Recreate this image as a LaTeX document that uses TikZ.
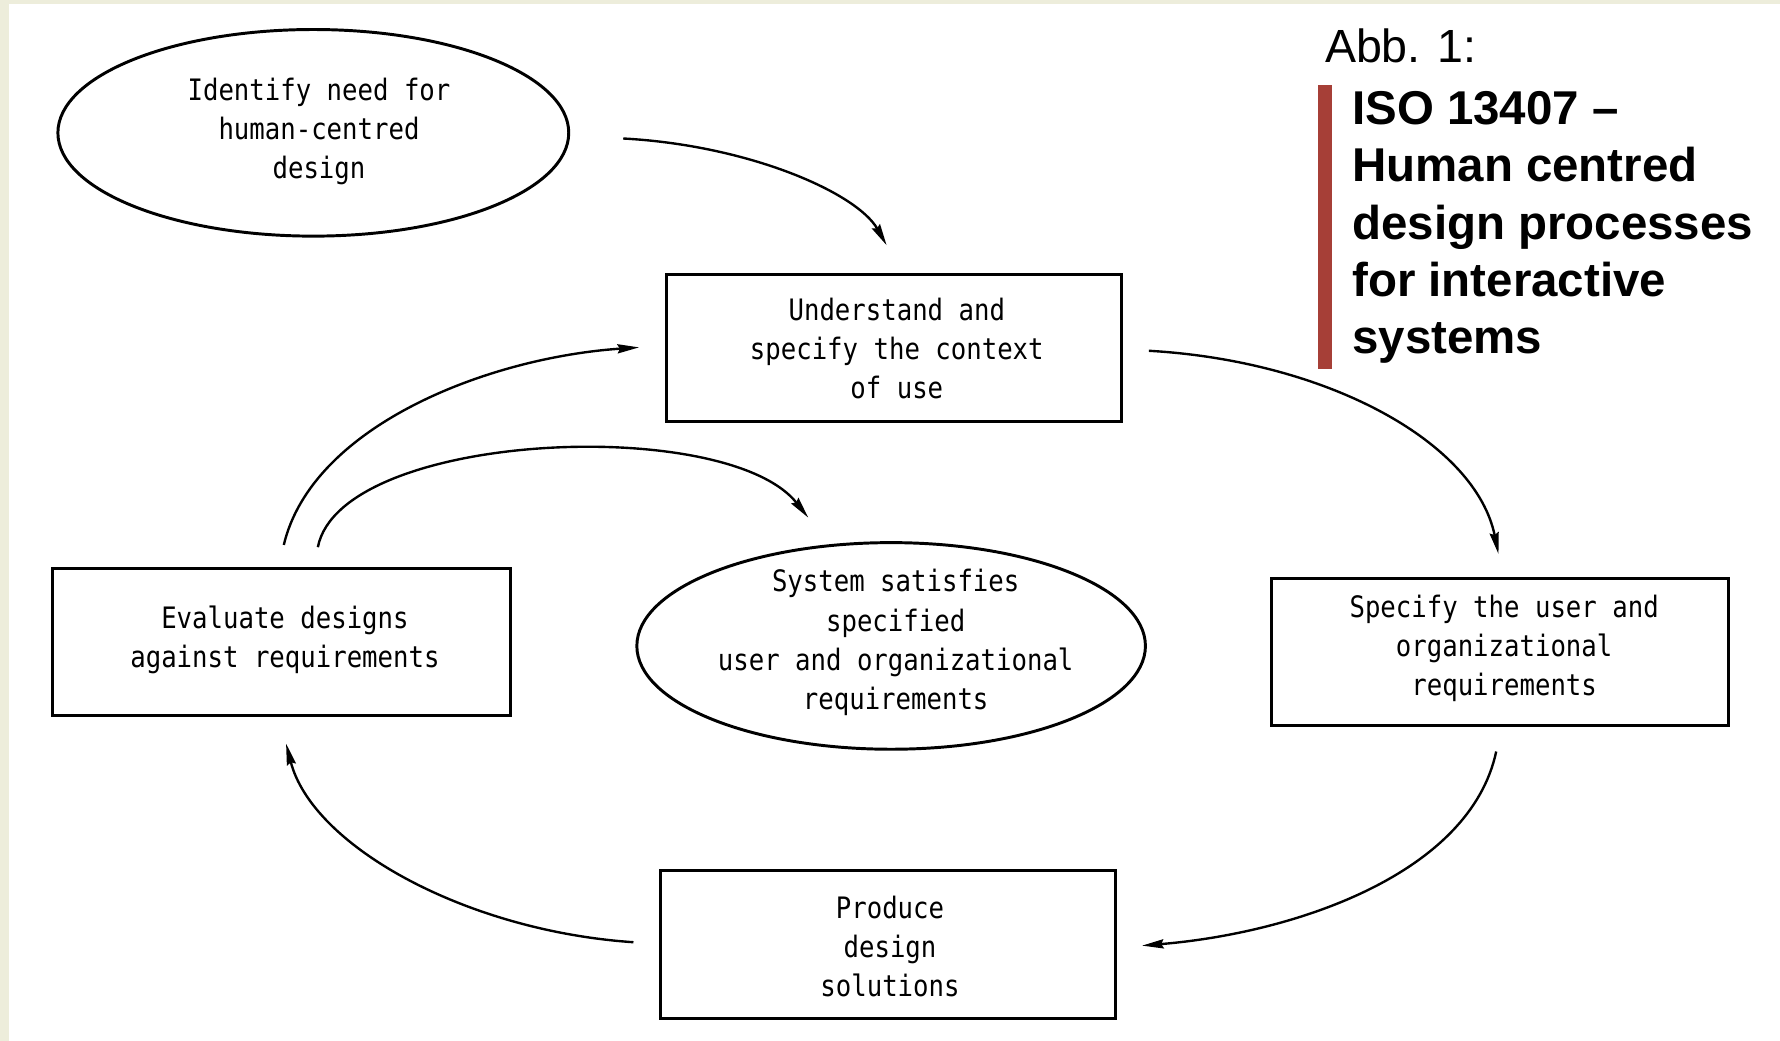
\documentclass[tikz,border=0pt]{standalone}
\usepackage{fontspec}
\setmainfont{Liberation Sans}
\newfontfamily\isofont[FakeStretch=0.87]{DejaVu Sans Mono}
\usetikzlibrary{shapes.geometric,arrows.meta}
\definecolor{beige}{HTML}{EDEDDB}
\definecolor{barred}{HTML}{A63F37}
\tikzset{
  isotext/.style={font=\isofont\fontsize{26}{34.5}\selectfont, align=center, inner sep=0pt},
  procbox/.style={draw, line width=2.6pt, minimum width=401pt, minimum height=130pt, inner sep=0pt},
  goalell/.style={draw, ellipse, line width=2.6pt, minimum width=450pt, minimum height=182pt, inner sep=0pt},
  flow/.style={line width=2.1pt, -{Stealth[length=19pt,width=8pt,inset=2pt]}},
  titlereg/.style={font=\fontsize{41}{50}\selectfont, anchor=base west, inner sep=0pt},
  titlebold/.style={font=\bfseries\fontsize{41.8}{50}\selectfont, anchor=base west, inner sep=0pt}
}
\begin{document}
\begin{tikzpicture}[x=1pt,y=-1pt]
\useasboundingbox (0,0) rectangle (1568,917);
\fill[beige] (0,0) rectangle (1568,917);
\fill[white] (7.5,3.5) rectangle (1568,917);

% shapes
\node[goalell] (need) at (276,117) {};
\node[isotext] (needt) at (281,116) {Identify need for\\human-centred\\design};
\node[procbox] (ctx) at (787.5,306.5) {};
\node[isotext] (ctxt) at (790,307) {Understand and\\specify the context\\of use};
\node[procbox, minimum width=404pt] (eval) at (248,565.5) {};
\node[isotext] (evalt) at (251,564) {Evaluate designs\\against requirements};
\node[goalell, minimum width=448pt] (sys) at (785,569) {};
\node[isotext] (syst) at (789,566) {System satisfies\\specified\\user and organizational\\requirements};
\node[procbox, minimum width=403pt] (req) at (1321.5,574.5) {};
\node[isotext] (reqt) at (1325,571) {Specify the user and\\organizational\\requirements};
\node[procbox] (prod) at (782.5,832) {};
\node[isotext] (prodt) at (784,834) {Produce\\design\\solutions};

% connector end points
\coordinate (a1s) at (549,122);  \coordinate (a1e) at (781,216);
\coordinate (a2s) at (1012,309); \coordinate (a2e) at (1320,488);
\coordinate (a3s) at (1318,662); \coordinate (a3e) at (1006,833);
\coordinate (a4s) at (558,830);  \coordinate (a4e) at (252,655);
\coordinate (a5s) at (250,480);  \coordinate (a5e) at (563,306);
\coordinate (a6s) at (280,482);  \coordinate (a6e) at (712,456);

\draw[flow] (a1s) .. controls (660,128) and (755,170) .. (a1e);
\draw[flow] (a2s) .. controls (1170,318) and (1300,390) .. (a2e);
\draw[flow] (a3s) .. controls (1295,770) and (1140,822) .. (a3e);
\draw[flow] (a4s) .. controls (410,820) and (275,745) .. (a4e);
\draw[flow] (a5s) .. controls (275,375) and (430,315) .. (a5e);
\draw[flow] (a6s) .. controls (300,380) and (640,365) .. (a6e);

% title
\node[titlereg] (abb) at (1167,55.5) {Abb. 1:};
\fill[barred] (1161,75) rectangle (1173,325);
\node[titlebold] (t1) at (1191,110) {ISO 13407 –};
\node[titlebold] (t2) at (1191,160.3) {Human centred};
\node[titlebold] (t3) at (1191,210.6) {design processes};
\node[titlebold] (t4) at (1191,260.9) {for interactive};
\node[titlebold] (t5) at (1191,311.2) {systems};
\end{tikzpicture}
\end{document}
